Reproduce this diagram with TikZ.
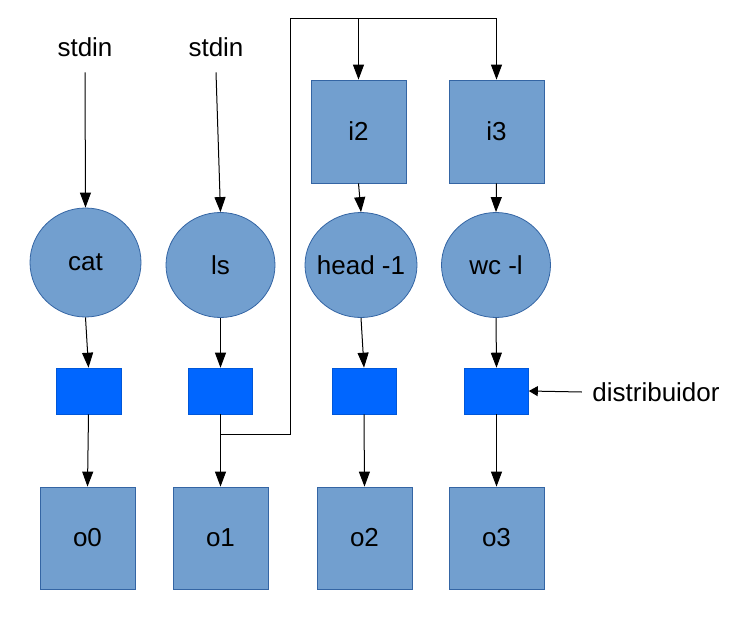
\documentclass[tikz,border=0pt]{standalone}
\usepackage{fontspec}
\setmainfont{Liberation Sans}
\usetikzlibrary{shapes.geometric}
\usetikzlibrary{arrows.meta}
\definecolor{prbg}{HTML}{729FCF}
\definecolor{prln}{HTML}{3465A4}
\definecolor{dsbg}{HTML}{0066FF}
\tikzset{pfp/.style={
  x=1pt,
  y=-1pt,
  font=\fontsize{26}{30}\selectfont,
  >={Triangle[length=15pt,width=11pt]},
  line width=1pt
}}
\tikzset{prn/.style={
  draw=prln,
  fill=prbg,
  line width=0.8pt,
  inner sep=0pt,
}}
\tikzset{pcn/.style={
  prn,
  shape=ellipse,
  inner xsep=-20pt,
  minimum width=109pt,
  minimum height=105pt,
}}
\tikzset{fdn/.style={
  prn,
  shape=rectangle,
  minimum width=95pt,
  minimum height=103pt,
}}
\tikzset{dsn/.style={
  draw=dsbg!85!black,
  fill=dsbg,
  line width=0.6pt,
  shape=rectangle,
  minimum width=64pt,
  minimum height=46pt,
}}

\begin{document}
\begin{tikzpicture}[pfp]
    \useasboundingbox (0,0) rectangle (729,624);
    % Inputs
    \node (s0) at (85,47) {stdin};
    \node (s1) at (216,47) {stdin};
    \node[fdn] (i2) at (358.5,131.5) {i2};
    \node[fdn] (i3) at (496.5,131.5) {i3};
    % Processes
    \node[pcn,minimum width=111pt,minimum height=109pt] (cat) at (85.5,262.5) {cat};
    \node[pcn] (ls) at (220.5,265) {ls};
    \node[pcn,minimum width=112pt] (head) at (361,265) {head -1};
    \node[pcn] (wc) at (496,265) {wc -l};
    % Distributors
    \node[dsn,minimum width=65pt] (d0) at (88.5,391) {};
    \node[dsn] (d1) at (220.5,391) {};
    \node[dsn] (d2) at (364,391) {};
    \node[dsn] (d3) at (496.5,391) {};
    \node[inner sep=10pt] (dlab) at (656,392) {distribuidor};
    % Outputs
    \node[fdn,minimum height=102pt] (o0) at (87.5,538) {o0};
    \node[fdn,minimum height=102pt] (o1) at (220.5,538) {o1};
    \node[fdn,minimum height=102pt] (o2) at (364.5,538) {o2};
    \node[fdn,minimum height=102pt] (o3) at (496.5,538) {o3};
    \coordinate (split) at (220.5,434);
    \coordinate (top) at (290,18);
    % Connectors
    \draw[->] ([yshift=-12pt]s0.south) -- (cat.north);
    \draw[->] ([yshift=-12pt]s1.south) -- (ls.north);
    \draw[->] (cat.south) -- (d0.north);
    \draw[->] (ls.south) -- (d1.north);
    \draw[->] (head.south) -- (d2.north);
    \draw[->] (wc.south) -- (d3.north);
    \draw[->] (i2.south) -- (head.north);
    \draw[->] (i3.south) -- (wc.north);
    \draw[->] (d0.south) -- (o0.north);
    \draw[->] (d1.south) -- (o1.north);
    \draw[->] (d2.south) -- (o2.north);
    \draw[->] (d3.south) -- (o3.north);
    \draw[->] (split) -| (top) -| (i3.north);
    \draw[->] (top -| i2.north) -- (i2.north);
    \draw[-{Triangle[length=9pt,width=10pt]}] (dlab.west) -- (d3.east);
\end{tikzpicture}
\end{document}
